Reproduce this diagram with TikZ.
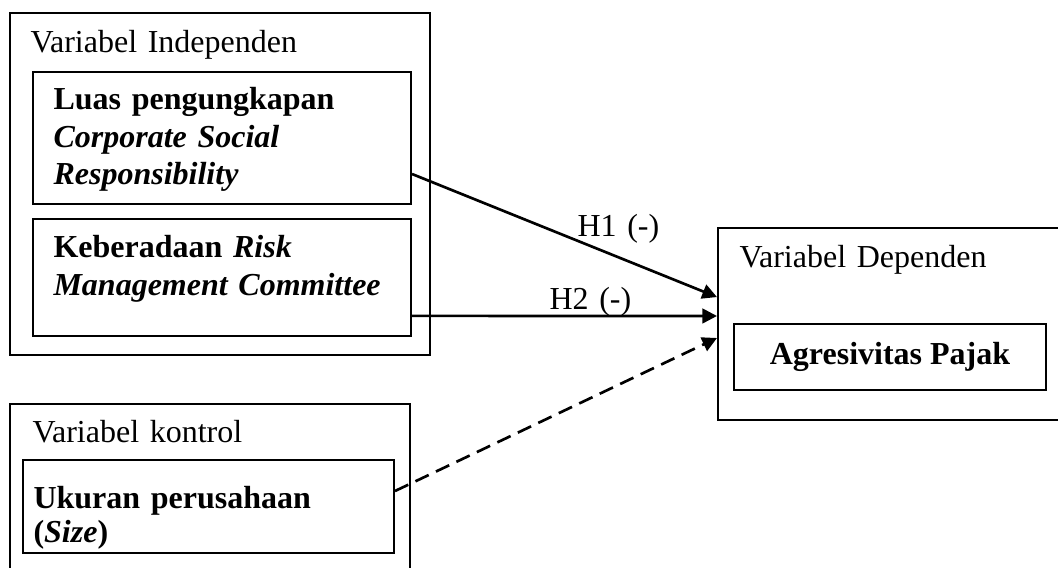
\documentclass[tikz,border=0pt]{standalone}
\usepackage{fontspec}
\setmainfont{Liberation Serif}
\usetikzlibrary{positioning,calc,arrows.meta}

\begin{document}
\begin{tikzpicture}[x=0.375pt, y=-0.375pt, font=\fontsize{12}{13.9}\selectfont,
    box/.style={draw, line width=0.75pt, anchor=north west, inner sep=0pt},
    txt/.style={anchor=base west, inner sep=0pt, align=left, text width=#1},
    txt/.default=130pt,
    link/.style={line width=1pt, -{Triangle[length=5.5pt,width=5.5pt]}}]
    \useasboundingbox (0,0) rectangle (1058,568);
    \clip (0,0) rectangle (1058,568);

    % variabel independen
    \node[box, minimum width=157.5pt, minimum height=128.25pt] (indep) at (9,12) {};
    \node[txt] (indeptitle) at (30,53) {Variabel Independen};
    \node[box, minimum width=141.75pt, minimum height=49.5pt] (csr) at (32,71) {};
    \node[txt] (csrtext) at (53,110) {\textbf{Luas pengungkapan}\\ \textbf{\textit{Corporate Social}}\\ \textbf{\textit{Responsibility}}};
    \node[box, minimum width=141.75pt, minimum height=43.875pt] (rmc) at (32,218) {};
    \node[txt] (rmctext) at (53,258) {\textbf{Keberadaan \textit{Risk}}\\ \textbf{\textit{Management Committee}}};

    % variabel dependen
    \node[box, minimum width=135pt, minimum height=72pt] (dep) at (717,227) {};
    \node[txt] (deptitle) at (739,268) {Variabel Dependen};
    \node[box, minimum width=117pt, minimum height=24.75pt, font=\fontsize{12}{13.9}\selectfont\bfseries] (agr) at (733,323) {Agresivitas Pajak};

    % variabel kontrol
    \node[box, minimum width=150pt, minimum height=67.5pt] (kontrol) at (9,403) {};
    \node[txt] (kontroltitle) at (32,443) {Variabel kontrol};
    \node[box, minimum width=139.125pt, minimum height=34.875pt] (size) at (22,459) {};
    \node[txt, font=\fontsize{12}{12.6}\selectfont] (sizetext) at (33,509) {\textbf{Ukuran perusahaan}\\ \textbf{(\textit{Size})}};

    % hipotesis
    \draw[link] ([yshift=-13.5pt]csr.east) -- ([yshift=10.1pt]dep.west);
    \draw[link] ([yshift=-14.4pt]rmc.east) -- ([yshift=3pt]dep.west);
    \draw[link, dash pattern=on 5.5pt off 3pt] ([yshift=5.8pt]size.east) -- ([yshift=-5.25pt]dep.west);
    \node[txt] (h1) at (577,237) {H1 (-)};
    \node[txt] (h2) at (549,310) {H2 (-)};
\end{tikzpicture}
\end{document}
